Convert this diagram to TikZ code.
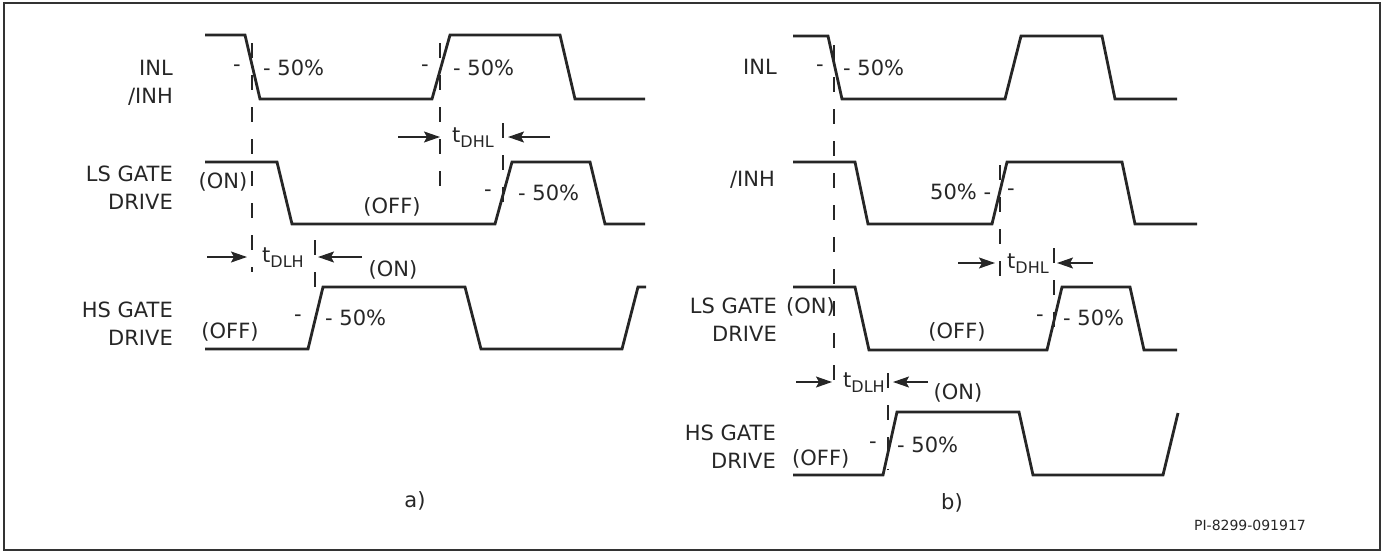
\documentclass[tikz,border=0pt]{standalone}
\usepackage{fontspec}
\setmainfont{DejaVu Sans}
\usetikzlibrary{arrows.meta}

\newcommand\tsub[1]{t\raisebox{-5pt}{\fontsize{16}{16}\selectfont #1}}

\begin{document}
\begin{tikzpicture}
  [
    x=1pt, y=-1pt,
    wave/.style  = {line width=2.8pt, line join=miter, color=black!85},
    guide/.style = {line width=1.2pt, dash pattern=on 15pt off 17pt, color=black!85},
    dim/.style   = {-{Stealth[length=16pt,width=11pt,inset=3pt]}, line width=1.4pt, color=black!85},
    txt/.style   = {inner sep=0pt, text=black!85, font=\fontsize{21}{28}\selectfont},
    sig/.style   = {txt, anchor=east, align=right}
  ]
  \useasboundingbox (0,0) rectangle (1385,552);
  \draw[line width=2pt, color=black!80] (4,3) rectangle (1380,550);

  % a)
  \node [sig] at (173,83)    (ain)  {INL\\/INH};
  \node [sig] at (173,187.5) (als)  {LS GATE\\DRIVE};
  \node [sig] at (173,324)   (ahs)  {HS GATE\\DRIVE};

  \draw[wave] (205,35) -- (245,35) -- (260,99) -- (432,99) -- (450,35)
              -- (560,35) -- (575,99) -- (645,99);
  \draw[wave] (205,162) -- (277,162) -- (292,224) -- (495,224) -- (512,162)
              -- (590,162) -- (605,224) -- (645,224);
  \draw[wave] (205,349) -- (308,349) -- (323,287) -- (465,287) -- (481,349)
              -- (622,349) -- (638,287) -- (646,287);

  \draw[guide] (252,43)  -- (252,272);
  \draw[guide] (440,43)  -- (440,190);
  \draw[guide] (503,123) -- (503,212);
  \draw[guide] (315,240) -- (315,300);

  \node [txt]             at (237,68)  (am1) {-};
  \node [txt,anchor=west] at (263,68)  (ap1) {- 50\%};
  \node [txt]             at (425,68)  (am2) {-};
  \node [txt,anchor=west] at (453,68)  (ap2) {- 50\%};
  \node [txt]             at (223,182) (aon) {(ON)};
  \node [txt]             at (392,207) (aoff) {(OFF)};
  \node [txt]             at (488,193) (am3) {-};
  \node [txt,anchor=west] at (518,193) (ap3) {- 50\%};
  \node [txt]             at (393,270) (hon) {(ON)};
  \node [txt]             at (230,332) (hoff) {(OFF)};
  \node [txt]             at (298,318) (am4) {-};
  \node [txt,anchor=west] at (325,318) (ap4) {- 50\%};

  \node [txt,anchor=base west] at (452,142) (adhl) {\tsub{DHL}};
  \draw[dim] (398,137) -- (440,137);
  \draw[dim] (550,137) -- (508,137);
  \node [txt,anchor=base west] at (262,262) (adlh) {\tsub{DLH}};
  \draw[dim] (207,257) -- (247,257);
  \draw[dim] (362,257) -- (318,257);

  \node [txt] at (415,501) (acap) {a)};

  % b)
  \node [sig] at (777,67)    (bin)  {INL};
  \node [sig] at (775,180)   (binh) {/INH};
  \node [sig] at (777,319.5) (bls)  {LS GATE\\DRIVE};
  \node [sig] at (776,447)   (bhs)  {HS GATE\\DRIVE};

  \draw[wave] (793,36) -- (828,36) -- (842,99) -- (1005,99) -- (1021,36)
              -- (1102,36) -- (1115,99) -- (1177,99);
  \draw[wave] (793,162) -- (855,162) -- (868,224) -- (992,224) -- (1007,162)
              -- (1122,162) -- (1135,224) -- (1197,224);
  \draw[wave] (793,287) -- (855,287) -- (869,350) -- (1047,350) -- (1062,287)
              -- (1130,287) -- (1144,350) -- (1177,350);
  \draw[wave] (793,475) -- (883,475) -- (897,412) -- (1019,412) -- (1033,475)
              -- (1163,475) -- (1178,413);

  \draw[guide] (834,45)   -- (834,385);
  \draw[guide] (1000,165) -- (1000,285);
  \draw[guide] (1054,248) -- (1054,330);
  \draw[guide] (888,373)  -- (888,470);

  \node [txt]             at (820,68)   (bm1) {-};
  \node [txt,anchor=west] at (843,68)   (bp1) {- 50\%};
  \node [txt,anchor=west] at (930,192)  (bp2) {50\% -};
  \node [txt]             at (1011,192) (bm2) {-};
  \node [txt,anchor=west] at (786,307)  (bon) {(ON)};
  \node [txt]             at (957,332)  (boff) {(OFF)};
  \node [txt]             at (1040,318) (bm3) {-};
  \node [txt,anchor=west] at (1063,318) (bp3) {- 50\%};
  \node [txt]             at (958,393)  (bhon) {(ON)};
  \node [txt,anchor=west] at (792,459)  (bhoff) {(OFF)};
  \node [txt]             at (873,445)  (bm4) {-};
  \node [txt,anchor=west] at (897,445)  (bp4) {- 50\%};

  \node [txt,anchor=base west] at (1007,268) (bdhl) {\tsub{DHL}};
  \draw[dim] (958,263)  -- (995,263);
  \draw[dim] (1093,263) -- (1057,263);
  \node [txt,anchor=base west] at (843,387) (bdlh) {\tsub{DLH}};
  \draw[dim] (796,382) -- (832,382);
  \draw[dim] (928,382) -- (893,382);

  \node [txt] at (952,503) (bcap) {b)};
  \node [txt,font=\fontsize{14}{16}\selectfont] at (1250,525) (pid) {PI-8299-091917};
\end{tikzpicture}
\end{document}
